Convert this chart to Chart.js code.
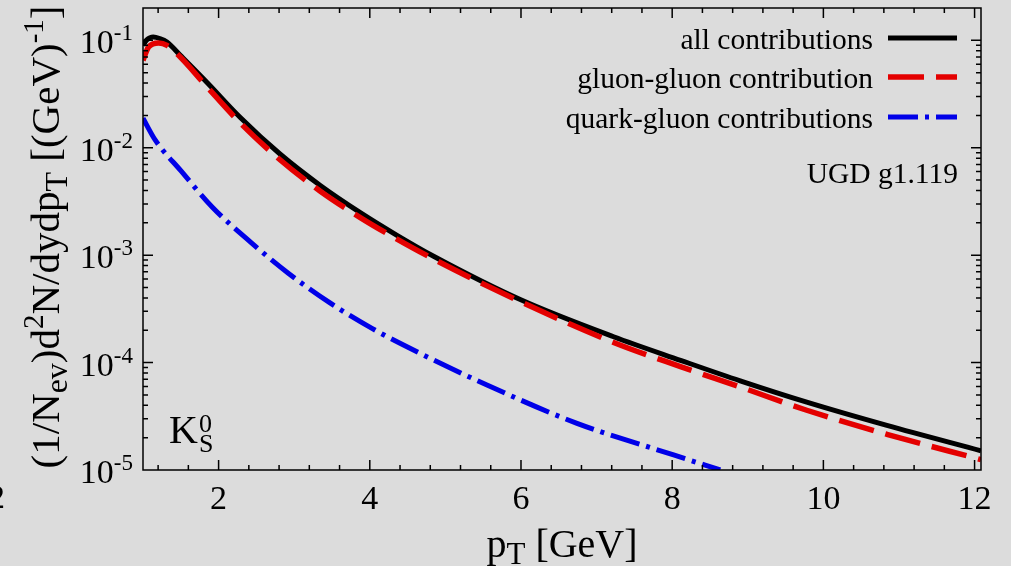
<!DOCTYPE html>
<html>
<head>
<meta charset="utf-8">
<script src="https://cdn.jsdelivr.net/npm/chart.js"></script>
<style>
  html, body { margin: 0; padding: 0; background: #dcdcdc; }
  canvas { display: block; }
</style>
</head>
<body>
<canvas id="myChart" width="1011" height="566"></canvas>
<script>
// values (pT in GeV, yield in 1/GeV)
const allPt  = [1.0, 1.05, 1.136, 1.22, 1.317, 1.493, 1.847, 2.287, 2.816, 3.345, 3.874, 4.36, 4.844, 5.99, 7.225, 8.11, 8.90, 9.78, 10.84, 12.085];
const allVal = [0.0898, 0.101, 0.1074, 0.104, 0.0964, 0.0725, 0.0405, 0.0191, 0.0087, 0.00446, 0.00249, 0.00153, 0.000977, 0.000386, 0.000174, 0.000105, 6.76e-5, 4.28e-5, 2.60e-5, 1.51e-5];

const ggPt  = [1.0, 1.074, 1.206, 1.317, 1.493, 1.847, 2.287, 2.816, 3.345, 3.874, 4.271, 4.844, 5.99, 7.225, 8.11, 8.90, 9.78, 10.84, 12.085];
const ggVal = [0.0651, 0.0867, 0.0944, 0.0898, 0.070, 0.0369, 0.0170, 0.00769, 0.00394, 0.00224, 0.00153, 0.00092, 0.00037, 0.000154, 9.18e-5, 5.93e-5, 3.60e-5, 2.15e-5, 1.25e-5];

const qgPt  = [1.0, 1.163, 1.503, 1.921, 2.419, 2.926, 3.464, 4.029, 4.624, 5.55, 6.741, 8.019, 8.636];
const qgVal = [0.0188, 0.01175, 0.00608, 0.00278, 0.00133, 0.000676, 0.000363, 0.000208, 0.000126, 6.18e-5, 2.72e-5, 1.38e-5, 1.0e-5];

const xTicks = [2, 4, 6, 8, 10, 12];
const yDecades = [-5, -4, -3, -2, -1];
const legendLabels = ['all contributions', 'gluon-gluon contribution', 'quark-gluon contributions'];

const xMin = 1, xMax = 12.085;
const yMin = 1e-5, yMax = 0.2;

const serif = '"Liberation Serif", "DejaVu Serif", serif';

function pairs(xs, ys) {
  return xs.map((x, i) => ({ x: x, y: ys[i] }));
}

// parts: [text, size, dy]
function richText(ctx, parts, x, y, align) {
  let w = 0;
  parts.forEach(p => { ctx.font = p[1] + 'px ' + serif; w += ctx.measureText(p[0]).width; });
  let cx = align === 'right' ? x - w : (align === 'center' ? x - w / 2 : x);
  ctx.textAlign = 'left';
  ctx.textBaseline = 'alphabetic';
  parts.forEach(p => {
    ctx.font = p[1] + 'px ' + serif;
    ctx.fillText(p[0], cx, y + (p[2] || 0));
    cx += ctx.measureText(p[0]).width;
  });
}

const framePlugin = {
  id: 'frame',
  afterDraw(chart) {
    const ctx = chart.ctx, a = chart.chartArea;
    const xs = chart.scales.x, ys = chart.scales.y;
    ctx.save();
    ctx.strokeStyle = '#000';
    ctx.lineWidth = 1.5;
    ctx.strokeRect(a.left, a.top, a.right - a.left, a.bottom - a.top);

    ctx.beginPath();
    // x ticks every 0.4, major every 2
    for (let k = -2; k <= 25; k++) {
      const v = 2 + 0.4 * k;
      if (v <= xMin || v > 12.01) continue;
      const len = k % 5 === 0 ? 10 : 5;
      const px = xs.getPixelForValue(v);
      ctx.moveTo(px, a.bottom); ctx.lineTo(px, a.bottom - len);
      ctx.moveTo(px, a.top); ctx.lineTo(px, a.top + len);
    }
    // log y ticks
    yDecades.forEach(d => {
      for (let m = 1; m <= 9; m++) {
        const v = m * Math.pow(10, d);
        if (v <= yMin * 1.0001 || v >= yMax) continue;
        const len = m === 1 ? 10 : 5;
        const py = ys.getPixelForValue(v);
        ctx.moveTo(a.left, py); ctx.lineTo(a.left + len, py);
        ctx.moveTo(a.right, py); ctx.lineTo(a.right - len, py);
      }
    });
    ctx.stroke();

    ctx.fillStyle = '#000';
    // tick labels
    xTicks.forEach(t => {
      ctx.font = '34px ' + serif;
      ctx.textAlign = 'center';
      ctx.textBaseline = 'alphabetic';
      ctx.fillText(String(t), xs.getPixelForValue(t), 509);
    });
    yDecades.forEach(d => {
      const py = ys.getPixelForValue(Math.pow(10, d));
      richText(ctx, [['10', 34, 0], ['-' + (-d), 23, -13]], 133, py + 13, 'right');
    });

    // axis titles
    richText(ctx, [['p', 40, 0], ['T', 31, 7], [' [GeV]', 40, 0]], (a.left + a.right) / 2, 557, 'center');
    ctx.save();
    ctx.translate(59, 237);
    ctx.rotate(-Math.PI / 2);
    richText(ctx, [['(1/N', 41, 0], ['ev', 32, 8], [')d', 41, 0], ['2', 29, -16], ['N/dydp', 41, 0],
      ['T', 32, 8], [' [(GeV)', 41, 0], ['-1', 29, -16], [']', 41, 0]], 0, 0, 'center');
    ctx.restore();

    // stray glyph from the neighbouring panel
    ctx.font = '34px ' + serif;
    ctx.textAlign = 'right';
    ctx.fillText('2', 5, 508);

    // K0S label
    ctx.textAlign = 'left';
    ctx.font = '40px ' + serif;
    ctx.fillText('K', 169, 443);
    ctx.font = '26px ' + serif;
    ctx.fillText('0', 199, 432);
    ctx.fillText('S', 199, 452);

    // legend
    const rows = [38, 77, 117];
    chart.data.datasets.forEach((ds, i) => {
      ctx.font = '29.5px ' + serif;
      ctx.textAlign = 'right';
      ctx.fillText(ds.label, 873, rows[i] + 11);
      ctx.beginPath();
      ctx.strokeStyle = ds.borderColor;
      ctx.lineWidth = ds.borderWidth;
      ctx.setLineDash(ds.borderDash || []);
      ctx.moveTo(888, rows[i]);
      ctx.lineTo(957, rows[i]);
      ctx.stroke();
      ctx.setLineDash([]);
    });
    ctx.font = '29.5px ' + serif;
    ctx.textAlign = 'right';
    ctx.fillText('UGD g1.119', 958, 183);
    ctx.restore();
  }
};

const data = {
  datasets: [
    {
      label: legendLabels[0],
      data: pairs(allPt, allVal),
      borderColor: '#000000',
      borderWidth: 5,
      order: 3
    },
    {
      label: legendLabels[1],
      data: pairs(ggPt, ggVal),
      borderColor: 'rgb(228, 0, 0)',
      borderWidth: 5.5,
      borderDash: [36, 12],
      order: 1
    },
    {
      label: legendLabels[2],
      data: pairs(qgPt, qgVal),
      borderColor: 'rgb(0, 0, 232)',
      borderWidth: 5,
      borderDash: [30, 7, 4, 7],
      order: 2
    }
  ]
};

const config = {
  type: 'line',
  data: data,
  options: {
    responsive: false,
    animation: false,
    layout: { padding: { left: 143, top: 8, right: 30, bottom: 96 } },
    elements: {
      point: { radius: 0 },
      line: { cubicInterpolationMode: 'monotone', borderCapStyle: 'butt', borderJoinStyle: 'round', fill: false }
    },
    plugins: {
      legend: { display: false },
      tooltip: { enabled: false }
    },
    scales: {
      x: { type: 'linear', min: xMin, max: xMax, display: false },
      y: { type: 'logarithmic', min: yMin, max: yMax, display: false }
    }
  },
  plugins: [framePlugin]
};

new Chart(document.getElementById('myChart'), config);
</script>
</body>
</html>
